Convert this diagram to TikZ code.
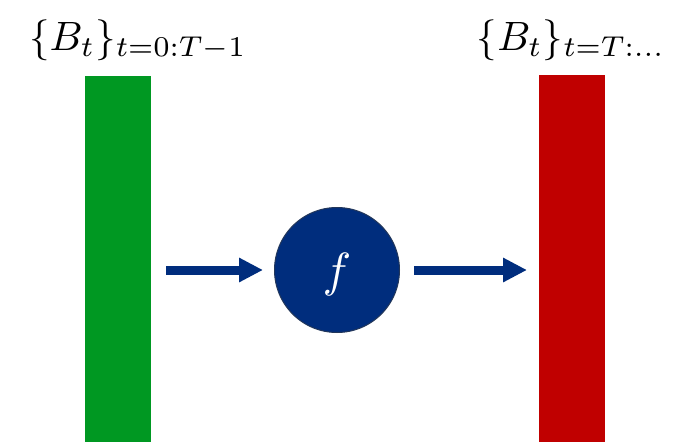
\documentclass[tikz,border=0pt]{standalone}
\usepackage{graphicx}
\usetikzlibrary{arrows.meta}
\definecolor{bargreen}{RGB}{0,152,34}
\definecolor{barred}{RGB}{192,0,0}
\definecolor{fblue}{RGB}{0,45,125}
\definecolor{fborder}{RGB}{35,55,90}
\tikzset{
  bar/.style={rectangle, inner sep=0pt, minimum width=66pt, minimum height=367pt, anchor=north west},
  flow/.style={fblue, line width=9pt, -{Triangle[length=24pt,width=23pt]}},
  lbl/.style={anchor=base, inner sep=0pt}
}
\begin{document}
\begin{tikzpicture}[x=1pt,y=-1pt]
\useasboundingbox (0,0) rectangle (681,442);
\node[bar, fill=bargreen] (g) at (85,76) {};
\node[bar, fill=barred] (r) at (539,75) {};
\node[circle, fill=fblue, draw=fborder, line width=1pt, minimum size=125pt, inner sep=0pt] (f) at (337,270) {};
\node[text=white, inner sep=0pt] (fl) at (337,274) {\scalebox{4.8}{$f$}};
\node[lbl] (lt) at (138,50) {\scalebox{4.1}{$\{B_t\}_{t=0:T-1}$}};
\node[lbl] (rt) at (571,50) {\scalebox{4.1}{$\{B_t\}_{t=T:\ldots}$}};
\draw[flow, shorten <=15pt, shorten >=11pt] (g.east |- f.west) -- (f.west);
\draw[flow, shorten <=14pt, shorten >=12pt] (f.east) -- (r.west |- f.east);
\end{tikzpicture}
\end{document}
